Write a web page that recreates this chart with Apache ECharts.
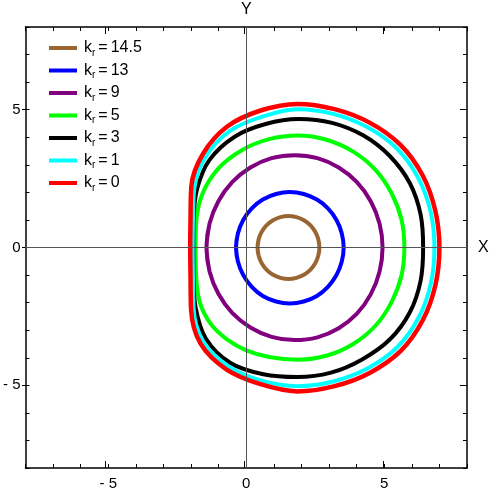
<!DOCTYPE html>
<html>
<head>
<meta charset="utf-8">
<script src="https://cdn.jsdelivr.net/npm/echarts@6/dist/echarts.min.js"></script>
<style>
  html, body { margin: 0; padding: 0; background: #fff; }
  #chart { width: 491px; height: 491px; }
</style>
</head>
<body>
<div id="chart"></div>
<script>
  // legend labels (k_r values) and their colours
  const kValues = ['14.5', '13', '9', '5', '3', '1', '0'];
  const colors = ['#996633', '#0000ff', '#800080', '#00ff00', '#000000', '#00ffff', '#ff0000'];

  // contours as [x, y]; each loop goes once round and
  // repeats its first points at the end so the join is smooth
  const curveK14_5 = [[0.45,0.30],[0.41,0],[0.45,-0.30],[0.56,-0.57],[0.74,-0.81],[0.97,-0.99],[1.24,-1.10],
    [1.53,-1.14],[1.82,-1.10],[2.09,-0.99],[2.32,-0.81],[2.50,-0.57],[2.61,-0.30],[2.65,0],[2.61,0.30],
    [2.50,0.57],[2.32,0.81],[2.09,0.99],[1.82,1.10],[1.53,1.14],[1.24,1.10],[0.97,0.99],[0.74,0.81],
    [0.56,0.57],[0.45,0.30],[0.41,0],[0.45,-0.30]];
  const curveK13 = [[-0.30,0.52],[-0.37,0],[-0.30,-0.52],[-0.11,-1.0],[0.20,-1.43],[0.60,-1.76],[1.08,-1.96],
    [1.58,-2.03],[2.08,-1.96],[2.56,-1.76],[2.96,-1.43],[3.27,-1.0],[3.46,-0.52],[3.53,0],[3.46,0.52],
    [3.27,1.0],[2.96,1.42],[2.56,1.74],[2.08,1.94],[1.58,2.01],[1.08,1.94],[0.60,1.74],[0.20,1.42],
    [-0.11,1.0],[-0.30,0.52],[-0.37,0],[-0.30,-0.52]];
  const curveK9 = [[-1.33,0.87],[-1.44,0],[-1.33,-0.87],[-1.01,-1.68],[-0.51,-2.37],[0.15,-2.9],[0.92,-3.24],
    [1.75,-3.36],[2.58,-3.26],[3.35,-2.93],[4.01,-2.4],[4.51,-1.7],[4.83,-0.88],[4.94,0],[4.83,0.87],
    [4.51,1.68],[4.01,2.37],[3.35,2.9],[2.58,3.24],[1.75,3.35],[0.92,3.24],[0.15,2.9],[-0.51,2.37],
    [-1.01,1.68],[-1.33,0.87],[-1.44,0],[-1.33,-0.87]];
  const curveK5 = [[-1.81,0.99],[-1.84,0],[-1.82,-1.0],[-1.68,-2.0],[-1.28,-2.78],[-0.7,-3.33],[0,-3.73],
    [0.83,-3.97],[1.88,-4.07],[2.93,-3.92],[3.89,-3.49],[4.69,-2.83],[5.27,-1.97],[5.63,-1.0],[5.73,0],
    [5.63,1.0],[5.27,1.96],[4.69,2.81],[3.89,3.47],[2.93,3.90],[1.88,4.06],[0.83,3.93],[-0.16,3.53],
    [-1.0,2.88],[-1.57,1.99],[-1.81,0.99],[-1.84,0],[-1.82,-1.0]];
  const curveK3 = [[-1.91,1.02],[-1.92,0],[-1.91,-1.06],[-1.84,-2.15],[-1.46,-3.31],[-0.57,-4.19],[0.62,-4.60],
    [1.85,-4.70],[3.07,-4.54],[4.20,-4.06],[5.21,-3.33],[5.93,-2.35],[6.32,-1.2],[6.41,0],[6.32,1.19],
    [5.93,2.33],[5.21,3.31],[4.25,4.06],[3.11,4.52],[1.9,4.66],[0.70,4.48],[-0.42,4.02],[-1.33,3.18],
    [-1.78,2.13],[-1.91,1.02],[-1.92,0],[-1.91,-1.06]];
  const curveK1 = [[-1.93,1.04],[-1.94,0],[-1.93,-1.06],[-1.91,-2.19],[-1.56,-3.41],[-0.64,-4.31],[0.56,-4.83],
    [1.85,-5.03],[3.15,-4.86],[4.39,-4.39],[5.47,-3.62],[6.25,-2.54],[6.69,-1.30],[6.82,0],[6.68,1.30],
    [6.23,2.53],[5.45,3.60],[4.38,4.37],[3.15,4.85],[1.85,5.02],[0.58,4.75],[-0.59,4.23],[-1.46,3.31],
    [-1.88,2.16],[-1.93,1.04],[-1.94,0],[-1.93,-1.06]];
  const curveK0 = [[-2.02,1.04],[-2.03,0],[-2.02,-1.04],[-2.0,-2.24],[-1.65,-3.5],[-0.71,-4.43],[0.52,-4.96],
    [1.85,-5.22],[3.2,-5.03],[4.47,-4.55],[5.6,-3.75],[6.4,-2.63],[6.86,-1.34],[7.0,0],[6.85,1.34],
    [6.39,2.62],[5.58,3.73],[4.47,4.53],[3.2,5.02],[1.85,5.21],[0.52,4.97],[-0.69,4.39],[-1.56,3.41],
    [-1.99,2.22],[-2.02,1.04],[-2.03,0],[-2.02,-1.04]];

  const curves = [curveK14_5, curveK13, curveK9, curveK5, curveK3, curveK1, curveK0];
  const majorTicks = [-5, 0, 5];

  const fmt = v => (v < 0 ? '- ' + Math.abs(v) : String(v));
  const labelFont = { fontFamily: 'Liberation Sans', fontSize: 15, color: '#000' };

  function frameAxis(pos, withLabels) {
    return {
      gridIndex: 0, type: 'value', position: pos, min: -8, max: 8, interval: 1,
      axisLine: { show: true, onZero: false, lineStyle: { color: '#000', width: 1.5 } },
      axisTick: { show: true, inside: true, length: 4, lineStyle: { color: '#000', width: 1 } },
      axisLabel: withLabels
        ? Object.assign({ customValues: majorTicks, formatter: fmt, margin: pos === 'bottom' ? 8 : 5 }, labelFont)
        : { show: false },
      splitLine: { show: false }
    };
  }
  function majorAxis(pos) {
    return {
      gridIndex: 1, type: 'value', position: pos, min: -8, max: 8, interval: 1,
      axisLine: { show: false, onZero: false },
      axisTick: { show: true, inside: true, length: 7, customValues: majorTicks, lineStyle: { color: '#000', width: 1 } },
      axisLabel: { show: false },
      splitLine: { show: false }
    };
  }

  const names = kValues.map(k => 'kr=' + k);

  const series = curves.map((pts, i) => ({
    name: names[i],
    type: 'line',
    xAxisIndex: 0,
    yAxisIndex: 0,
    data: pts,
    smooth: 0.35,
    showSymbol: false,
    symbol: 'none',
    itemStyle: { color: colors[i] },
    lineStyle: { color: colors[i], width: i === 6 ? 4.5 : 4 }
  }));

  // axes through the origin, labelled X and Y
  series[0].markLine = {
    silent: true,
    symbol: 'none',
    animation: false,
    lineStyle: { color: '#555', width: 1, type: 'solid' },
    label: Object.assign({ position: 'end' }, labelFont, { fontSize: 16 }),
    data: [
      { xAxis: 0, label: { formatter: 'Y', distance: 9 } },
      { yAxis: 0, label: { formatter: 'X', distance: 11 } }
    ]
  };

  const chart = echarts.init(document.getElementById('chart'));
  chart.setOption({
    animation: false,
    grid: [
      { left: 22, right: 24, top: 27, bottom: 23 },
      { left: 22, right: 24, top: 27, bottom: 23 }
    ],
    xAxis: [frameAxis('bottom', true), frameAxis('top', false), majorAxis('bottom'), majorAxis('top')],
    yAxis: [frameAxis('left', true), frameAxis('right', false), majorAxis('left'), majorAxis('right')],
    legend: {
      orient: 'vertical',
      left: 44,
      top: 35,
      itemWidth: 28,
      itemHeight: 4,
      itemGap: 4.5,
      icon: 'rect',
      data: names,
      formatter: name => '{k|k}{r|r}{e|=}{k|' + name.slice(3) + '}',
      textStyle: {
        rich: {
          k: { fontFamily: 'Liberation Sans', fontSize: 16, color: '#000', lineHeight: 20, padding: [0, 0, 0, 2] },
          e: { fontFamily: 'Liberation Sans', fontSize: 16, color: '#000', lineHeight: 20, padding: [0, 1, 0, 3] },
          r: { fontFamily: 'Liberation Sans', fontSize: 10, color: '#000', lineHeight: 10, verticalAlign: 'bottom' }
        }
      }
    },
    series: series
  });
</script>
</body>
</html>
